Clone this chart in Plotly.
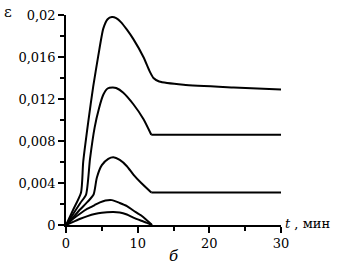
import plotly.graph_objects as go

# ---- data ----
t1 = [0, 1, 2.1, 2.4, 3.1, 3.8, 4.5, 5.2, 5.8, 6.4, 7.0, 7.7, 8.5, 9.4, 10.8, 11.7, 12.2, 13.0, 16.4, 23.4, 30]
e1 = [0, 0.00145, 0.0031, 0.0060, 0.0098, 0.0132, 0.0161, 0.0187, 0.0196, 0.0198, 0.0197, 0.0193, 0.0186, 0.0177, 0.0160, 0.0146, 0.0140, 0.01367, 0.01336, 0.0131, 0.0129]

t2 = [0, 1, 2, 2.8, 3.35, 4.0, 4.6, 5.2, 5.8, 6.5, 7.0, 8.0, 9.4, 10.8, 11.9, 30]
e2 = [0, 0.00105, 0.0021, 0.0029, 0.0063, 0.0093, 0.0111, 0.0124, 0.0130, 0.0131, 0.01305, 0.0126, 0.0115, 0.0101, 0.0086, 0.0086]

t3 = [0, 1, 2, 3, 3.85, 4.3, 5.0, 5.9, 6.6, 7.5, 8.5, 9.4, 10.5, 11.9, 30]
e3 = [0, 0.00075, 0.0015, 0.0022, 0.0029, 0.0045, 0.0057, 0.0063, 0.00645, 0.0062, 0.0056, 0.0048, 0.0040, 0.0031, 0.0031]

t4 = [0, 1, 2, 3, 4, 4.74, 5.5, 6.4, 7.5, 8.5, 9.4, 10.5, 11.2, 12]
e4 = [0, 0.0006, 0.0011, 0.00155, 0.0019, 0.00215, 0.00233, 0.00237, 0.0021, 0.0018, 0.00138, 0.0009, 0.0005, 0]

t5 = [0, 1, 2, 3, 4, 5, 6.5, 7.5, 8.5, 9.4, 10.5, 11.3, 12]
e5 = [0, 0.0003, 0.0006, 0.00085, 0.00105, 0.00117, 0.00123, 0.0012, 0.0010, 0.0007, 0.0004, 0.0002, 0]

x_tickvals = [0, 10, 20, 30]
x_ticktext = ["0", "10", "20", "30"]
y_tickvals = [0, 0.004, 0.008, 0.012, 0.016, 0.02]
y_ticktext = ["0", "0,004", "0,008", "0,012", "0,016", "0,02"]

FONT = "DejaVu Serif"

fig = go.Figure()


def add_curve(tx, ey, split_at=None):
    """Smooth rising part; straight tail after split point (if any)."""
    if split_at is None:
        segs = [(tx, ey)]
    else:
        i = tx.index(split_at)
        segs = [(tx[:i + 1], ey[:i + 1]), (tx[i:], ey[i:])]
    for k, (sx, sy) in enumerate(segs):
        fig.add_trace(go.Scatter(
            x=sx, y=sy, mode="lines",
            line=dict(color="black", width=2,
                      shape="spline" if k == 0 else "linear", smoothing=0.6),
            showlegend=False, hoverinfo="skip"))


add_curve(t1, e1)
add_curve(t2, e2, split_at=11.9)
add_curve(t3, e3, split_at=11.9)
add_curve(t4, e4)
add_curve(t5, e5)

fig.update_layout(
    width=343, height=268,
    margin=dict(l=66, r=62, t=8, b=43),
    paper_bgcolor="white", plot_bgcolor="white",
    font=dict(family=FONT, size=13, color="black"),
    xaxis=dict(range=[0, 30], showgrid=False, zeroline=False,
               showline=True, linecolor="black", linewidth=1.5,
               ticks="outside", ticklen=6, tickwidth=1.5, tickcolor="black",
               tickvals=x_tickvals, ticktext=x_ticktext,
               minor=dict(dtick=5, tick0=0, ticks="outside", ticklen=4,
                          tickwidth=1.5, tickcolor="black"),
               ticklabeloverflow="allow",
               tickfont=dict(family=FONT, size=13)),
    yaxis=dict(range=[0, 0.02], showgrid=False, zeroline=False,
               showline=True, linecolor="black", linewidth=1.5,
               ticks="outside", ticklen=6, tickwidth=1.5, tickcolor="black",
               tickvals=y_tickvals, ticktext=y_ticktext,
               minor=dict(dtick=0.002, tick0=0, ticks="outside", ticklen=4,
                          tickwidth=1.5, tickcolor="black"),
               ticklabeloverflow="allow",
               tickfont=dict(family=FONT, size=13)),
)

fig.add_annotation(text="ε", xref="paper", yref="paper", x=-0.3, y=1.0138,
                   xanchor="left", yanchor="middle", showarrow=False,
                   font=dict(family=FONT, size=15))
fig.add_annotation(text="<i>t</i> , мин", xref="paper", yref="paper", x=1.01, y=0,
                   xanchor="left", yanchor="middle", showarrow=False,
                   yshift=2, font=dict(family=FONT, size=13))
fig.add_annotation(text="<i>б</i>", xref="paper", yref="paper", x=0.5, y=-0.2,
                   xanchor="center", yanchor="bottom", showarrow=False,
                   font=dict(family=FONT, size=15))

fig.write_html("out.html", config={"displayModeBar": False},
               post_script="document.body.style.margin='0';document.body.style.overflow='hidden';")
